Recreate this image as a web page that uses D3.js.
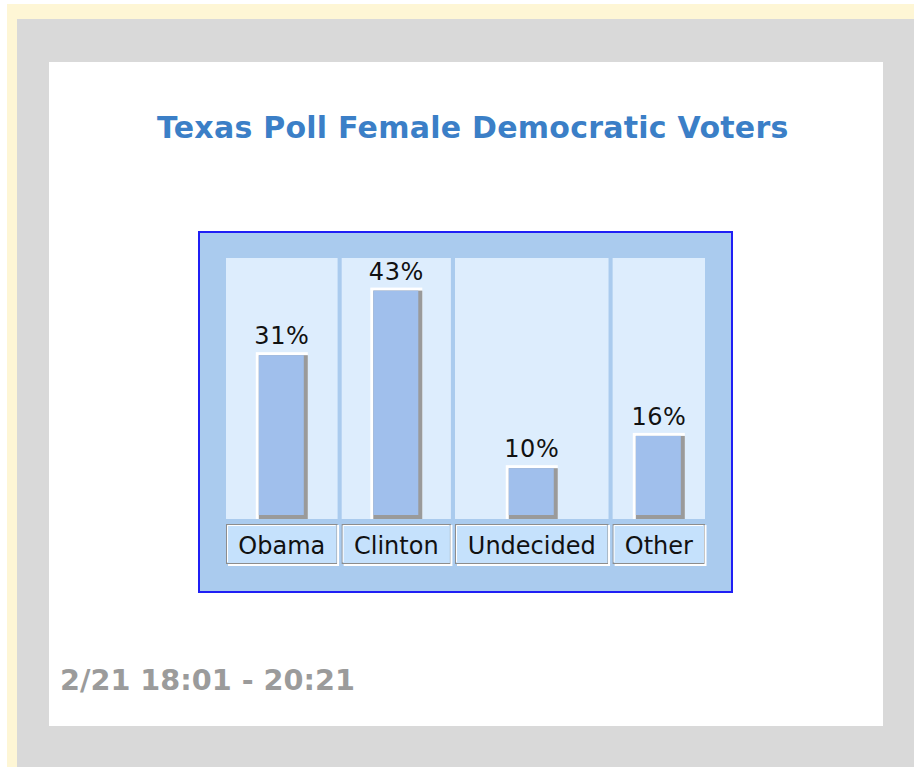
<!DOCTYPE html>
<html>
<head>
<meta charset="utf-8">
<script src="https://cdn.jsdelivr.net/npm/d3@7"></script>
<style>
  body { margin: 0; background: #fff; }
  svg { display: block; }
</style>
</head>
<body>
<svg id="chart"></svg>
<script>
var title = "Texas Poll Female Democratic Voters";
var footer = "2/21 18:01 - 20:21";
var candidates = ["Obama", "Clinton", "Undecided", "Other"];
var percents = [31, 43, 10, 16];

var width = 914, height = 767;
var svg = d3.select("#chart").attr("width", width).attr("height", height);

// page frame: yellow, grey, white
svg.append("rect").attr("x", 7).attr("y", 4).attr("width", width - 7).attr("height", height - 4).attr("fill", "#fef6d5");
svg.append("rect").attr("x", 17).attr("y", 19).attr("width", width - 17).attr("height", height - 19).attr("fill", "#d9d9d9");
svg.append("rect").attr("x", 49).attr("y", 62).attr("width", 834).attr("height", 664).attr("fill", "#fff");

svg.append("text")
    .attr("x", 157).attr("y", 138)
    .style("font-family", "DejaVu Sans, Verdana, sans-serif")
    .style("font-weight", "bold")
    .style("font-size", "30px")
    .style("letter-spacing", "0.25px")
    .attr("fill", "#3b7fc7")
    .text(title);

svg.append("text")
    .attr("x", 60).attr("y", 690)
    .style("font-family", "DejaVu Sans, Verdana, sans-serif")
    .style("font-weight", "bold")
    .style("font-size", "28.7px")
    .attr("fill", "#9b9b9b")
    .text(footer);

// chart box
var box = {left: 198, top: 231, right: 733, bottom: 593};
svg.append("rect")
    .attr("x", box.left + 1).attr("y", box.top + 1)
    .attr("width", box.right - box.left - 2).attr("height", box.bottom - box.top - 2)
    .attr("fill", "#aacbee").attr("stroke", "#1f1ff5").attr("stroke-width", 2);

var plotLeft = 226, plotRight = 705, plotTop = 258, plotBottom = 519;
var gap = 4, labelPad = 22;
var labelFont = "DejaVu Sans, Verdana, sans-serif";

// measure label widths to size each column
var measure = svg.append("g");
var textW = candidates.map(function (c) {
    var t = measure.append("text").style("font-family", labelFont).style("font-size", "24px").text(c);
    var w = t.node().getComputedTextLength();
    return w;
});
measure.remove();

var colW = textW.map(function (w) { return w + labelPad; });
var total = d3.sum(colW) + gap * (candidates.length - 1);
var starts = [];
var acc = 0;
colW.forEach(function (w) { starts.push(acc); acc += w + gap; });

var x = d3.scaleLinear().domain([0, total]).range([plotLeft, plotRight]);
var y = d3.scaleLinear().domain([0, 48.5]).range([plotBottom, plotTop]);

var data = candidates.map(function (c, i) {
    return {name: c, value: percents[i], x0: x(starts[i]), x1: x(starts[i] + colW[i])};
});

var col = svg.append("g").selectAll("g")
    .data(data)
    .enter().append("g");

col.append("rect")
    .attr("x", function (d) { return d.x0; })
    .attr("y", plotTop)
    .attr("width", function (d) { return d.x1 - d.x0; })
    .attr("height", plotBottom - plotTop)
    .attr("fill", "#ddedfd");

var barW = 52;
function barX(d) { return (d.x0 + d.x1) / 2 - barW / 2; }

// white highlight
col.append("rect")
    .attr("x", barX)
    .attr("y", function (d) { return y(d.value); })
    .attr("width", barW)
    .attr("height", function (d) { return plotBottom - y(d.value); })
    .attr("fill", "#ffffff");
// grey shadow
col.append("rect")
    .attr("x", function (d) { return barX(d) + 3; })
    .attr("y", function (d) { return y(d.value) + 3; })
    .attr("width", barW - 3)
    .attr("height", function (d) { return plotBottom - y(d.value) - 3; })
    .attr("fill", "#9a9a9a");
// bar body
col.append("rect")
    .attr("x", function (d) { return barX(d) + 3; })
    .attr("y", function (d) { return y(d.value) + 3; })
    .attr("width", barW - 7)
    .attr("height", function (d) { return plotBottom - y(d.value) - 7; })
    .attr("fill", "#a0bfec");

col.append("text")
    .attr("x", function (d) { return (d.x0 + d.x1) / 2; })
    .attr("y", function (d) { return y(d.value) - 8; })
    .attr("text-anchor", "middle")
    .style("font-family", labelFont)
    .style("font-size", "24px")
    .style("letter-spacing", "0.5px")
    .attr("fill", "#111")
    .text(function (d) { return d.value + "%"; });

// category label boxes
var lblTop = 524, lblH = 39;
col.append("rect")
    .attr("x", function (d) { return d.x0 + 0.5; })
    .attr("y", lblTop + 0.5)
    .attr("width", function (d) { return d.x1 - d.x0 - 1; })
    .attr("height", lblH)
    .attr("fill", "#c5e1fc")
    .attr("stroke", "#8d8d8d");
col.append("path")
    .attr("d", function (d) {
        return "M" + (d.x0 + 1.5) + "," + (lblTop + lblH - 1) + "V" + (lblTop + 1.5) + "H" + (d.x1 - 2);
    })
    .attr("fill", "none")
    .attr("stroke", "#ffffff");
col.append("path")
    .attr("d", function (d) {
        return "M" + (d.x0 + 2) + "," + (lblTop + lblH + 2) + "H" + (d.x1 + 0.5) + "V" + (lblTop + 1);
    })
    .attr("fill", "none")
    .attr("stroke", "#ffffff")
    .attr("stroke-width", 2);

col.append("text")
    .attr("x", function (d) { return (d.x0 + d.x1) / 2; })
    .attr("y", lblTop + 30)
    .attr("text-anchor", "middle")
    .style("font-family", labelFont)
    .style("font-size", "24px")
    .attr("fill", "#111")
    .text(function (d) { return d.name; });
</script>
</body>
</html>
